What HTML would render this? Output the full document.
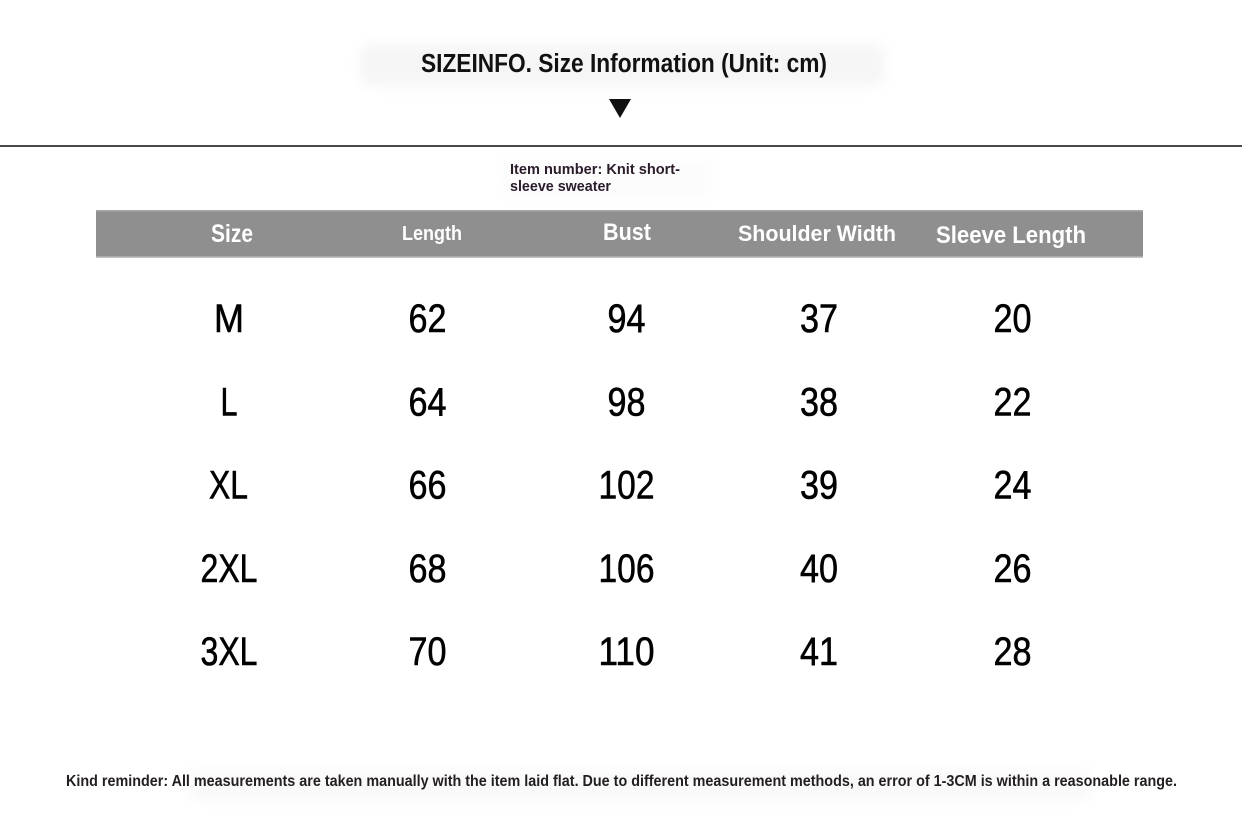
<!DOCTYPE html>
<html>
<head>
<meta charset="utf-8">
<style>
  html, body { margin:0; padding:0; background:#fff; }
  body { width:1242px; height:819px; overflow:hidden; }
  svg { display:block; }
</style>
</head>
<body>
<svg width="1242" height="819" viewBox="0 0 1242 819" xmlns="http://www.w3.org/2000/svg">
  <defs>
    <filter id="blur" x="-20%" y="-50%" width="140%" height="200%">
      <feGaussianBlur stdDeviation="6"/>
    </filter>
  </defs>
  <rect width="1242" height="819" fill="#ffffff"/>

  <!-- faint smudges -->
  <rect x="360" y="44" width="525" height="42" rx="12" fill="#ececec" opacity="0.5" filter="url(#blur)"/>
  <rect x="500" y="160" width="215" height="38" fill="#f6f6f6" opacity="0.3" filter="url(#blur)"/>
  <rect x="190" y="770" width="900" height="30" fill="#f0f0f0" opacity="0.4" filter="url(#blur)"/>

  <!-- title -->
  <text x="421" y="72" font-family="Liberation Sans, sans-serif" font-weight="bold" font-size="25.5" fill="#111" textLength="406" lengthAdjust="spacingAndGlyphs">SIZEINFO. Size Information (Unit: cm)</text>

  <!-- triangle -->
  <polygon points="609,99 631,99 620,118" fill="#111"/>

  <!-- divider line -->
  <rect x="0" y="145" width="1242" height="2" fill="#4a4a4a"/>

  <!-- item number -->
  <g font-family="Liberation Sans, sans-serif" font-weight="bold" font-size="15" fill="#2a1c2a">
    <text x="510" y="174" textLength="170" lengthAdjust="spacingAndGlyphs">Item number: Knit short-</text>
    <text x="510" y="191" textLength="101" lengthAdjust="spacingAndGlyphs">sleeve sweater</text>
  </g>

  <!-- header bar -->
  <rect x="96" y="210" width="1047" height="48" fill="#8f8f8f"/>
  <rect x="96" y="210" width="1047" height="1.5" fill="#a8a8a8"/>
  <rect x="96" y="256.5" width="1047" height="1.5" fill="#c4c4c4"/>

  <g font-family="Liberation Sans, sans-serif" font-weight="bold" fill="#ffffff">
    <text x="211" y="242" font-size="25" textLength="42" lengthAdjust="spacingAndGlyphs">Size</text>
    <text x="402" y="240" font-size="20.5" textLength="60" lengthAdjust="spacingAndGlyphs">Length</text>
    <text x="603" y="240" font-size="24" textLength="48" lengthAdjust="spacingAndGlyphs">Bust</text>
    <text x="738" y="241" font-size="22.5" textLength="158" lengthAdjust="spacingAndGlyphs">Shoulder Width</text>
    <text x="936" y="243" font-size="24" textLength="150" lengthAdjust="spacingAndGlyphs">Sleeve Length</text>
  </g>

  <!-- data rows -->
  <g font-family="Liberation Sans, sans-serif" font-size="40" fill="#000" stroke="#000" stroke-width="0.6" text-anchor="middle">
    <!-- row M -->
    <text x="229" y="332" textLength="30" lengthAdjust="spacingAndGlyphs">M</text>
    <text x="427.5" y="332" textLength="38" lengthAdjust="spacingAndGlyphs">62</text>
    <text x="626.5" y="332" textLength="38" lengthAdjust="spacingAndGlyphs">94</text>
    <text x="819" y="332" textLength="38" lengthAdjust="spacingAndGlyphs">37</text>
    <text x="1012.5" y="332" textLength="38" lengthAdjust="spacingAndGlyphs">20</text>
    <!-- row L -->
    <text x="229" y="415.3" textLength="17" lengthAdjust="spacingAndGlyphs">L</text>
    <text x="427.5" y="415.3" textLength="38" lengthAdjust="spacingAndGlyphs">64</text>
    <text x="626.5" y="415.3" textLength="38" lengthAdjust="spacingAndGlyphs">98</text>
    <text x="819" y="415.3" textLength="38" lengthAdjust="spacingAndGlyphs">38</text>
    <text x="1012.5" y="415.3" textLength="38" lengthAdjust="spacingAndGlyphs">22</text>
    <!-- row XL -->
    <text x="228.5" y="498.6" textLength="39" lengthAdjust="spacingAndGlyphs">XL</text>
    <text x="427.5" y="498.6" textLength="38" lengthAdjust="spacingAndGlyphs">66</text>
    <text x="626.5" y="498.6" textLength="56" lengthAdjust="spacingAndGlyphs">102</text>
    <text x="819" y="498.6" textLength="38" lengthAdjust="spacingAndGlyphs">39</text>
    <text x="1012.5" y="498.6" textLength="38" lengthAdjust="spacingAndGlyphs">24</text>
    <!-- row 2XL -->
    <text x="229" y="581.9" textLength="57" lengthAdjust="spacingAndGlyphs">2XL</text>
    <text x="427.5" y="581.9" textLength="38" lengthAdjust="spacingAndGlyphs">68</text>
    <text x="626.5" y="581.9" textLength="56" lengthAdjust="spacingAndGlyphs">106</text>
    <text x="819" y="581.9" textLength="38" lengthAdjust="spacingAndGlyphs">40</text>
    <text x="1012.5" y="581.9" textLength="38" lengthAdjust="spacingAndGlyphs">26</text>
    <!-- row 3XL -->
    <text x="229" y="665.2" textLength="57" lengthAdjust="spacingAndGlyphs">3XL</text>
    <text x="427.5" y="665.2" textLength="38" lengthAdjust="spacingAndGlyphs">70</text>
    <text x="626.5" y="665.2" textLength="56" lengthAdjust="spacingAndGlyphs">110</text>
    <text x="819" y="665.2" textLength="38" lengthAdjust="spacingAndGlyphs">41</text>
    <text x="1012.5" y="665.2" textLength="38" lengthAdjust="spacingAndGlyphs">28</text>
  </g>

  <!-- footer -->
  <text x="66" y="786" font-family="Liberation Sans, sans-serif" font-weight="bold" font-size="15.5" fill="#231f20" textLength="1111" lengthAdjust="spacingAndGlyphs">Kind reminder: All measurements are taken manually with the item laid flat. Due to different measurement methods, an error of 1-3CM is within a reasonable range.</text>
</svg>
</body>
</html>
